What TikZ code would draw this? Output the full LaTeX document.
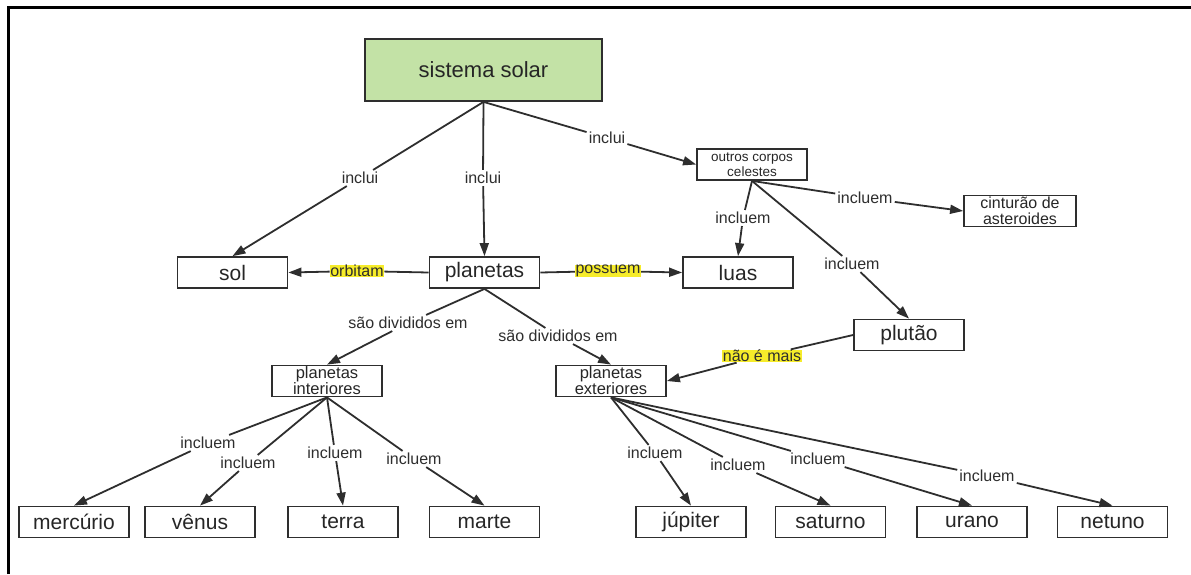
\documentclass[tikz,border=0pt]{standalone}
\usepackage{fontspec}
\setmainfont{Liberation Sans}
\usetikzlibrary{arrows.meta}

\definecolor{solgreen}{HTML}{C3E2A6}
\definecolor{linegray}{HTML}{2E2E2E}
\definecolor{marker}{HTML}{F6EC2A}

\begin{document}
\begin{tikzpicture}[x=1pt,y=-1pt,
   box/.style={draw=linegray,line width=1.8pt,minimum width=110pt,minimum height=31pt,
               inner sep=1pt,align=center,font=\fontsize{21}{24}\selectfont,text=black!85},
   smallbox/.style={box,font=\fontsize{13.5}{15}\selectfont},
   midbox/.style={box,font=\fontsize{16}{15.5}\selectfont},
   lbl/.style={fill=white,inner sep=2pt,font=\fontsize{16}{18}\selectfont,text=linegray},
   hl/.style={lbl,fill=marker,inner sep=0.5pt},
   link/.style={draw=linegray,line width=1.8pt},
   >={Triangle[length=13pt,width=9pt]}]
  \useasboundingbox (0,0) rectangle (1191,574);
  \draw[line width=3pt] (8,574) -- (8,7) -- (1191,7);

  % concepts
  \node[box,fill=solgreen,minimum width=237pt,minimum height=62pt,font=\fontsize{22}{24}\selectfont] (sis) at (483.5,70) {sistema solar};
  \node[smallbox] (outros) at (752,164.5) {outros corpos\\celestes};
  \node[midbox,minimum width=112pt] (cint) at (1020,211) {cinturão de\\asteroides};
  \node[box] (sol) at (232.5,272.5) {sol};
  \node[box] (plan) at (484.5,272.5) {planetas};
  \node[box] (luas) at (738,272.5) {luas};
  \node[box] (plut) at (909,335) {plutão};
  \node[midbox,font=\fontsize{16.5}{16}\selectfont] (pint) at (327,381) {planetas\\interiores};
  \node[midbox,font=\fontsize{16.5}{16}\selectfont] (pext) at (611,381) {planetas\\exteriores};
  \node[box] (merc) at (74,522) {mercúrio};
  \node[box] (ven) at (200,522) {vênus};
  \node[box] (ter) at (343,522) {terra};
  \node[box] (mar) at (484.5,522) {marte};
  \node[box] (jup) at (691,522) {júpiter};
  \node[box] (sat) at (830.5,522) {saturno};
  \node[box] (ura) at (972,522) {urano};
  \node[box] (net) at (1112.5,522) {netuno};

  % linking phrases
  \node[lbl] (inc1) at (360,178) {inclui};
  \node[lbl] (inc2) at (483,178) {inclui};
  \node[lbl] (inc3) at (607,138) {inclui};
  \node[lbl] (incL) at (743,218) {incluem};
  \node[lbl] (incC) at (865,198) {incluem};
  \node[lbl] (incP) at (852,264) {incluem};
  \node[hl] (orb) at (357,271) {orbitam};
  \node[hl] (pos) at (608,271) {possuem};
  \node[lbl] (div1) at (408,323) {são divididos em};
  \node[lbl] (div2) at (558,336) {são divididos em};
  \node[hl] (nao) at (762,356) {não é mais};
  \node[lbl] (iMe) at (208,443) {incluem};
  \node[lbl] (iVe) at (248,463) {incluem};
  \node[lbl] (iTe) at (335,453) {incluem};
  \node[lbl] (iMa) at (414,459) {incluem};
  \node[lbl] (iJu) at (655,453) {incluem};
  \node[lbl] (iSa) at (738,465) {incluem};
  \node[lbl] (iUr) at (818,459) {incluem};
  \node[lbl] (iNe) at (987,476) {incluem};

  % links
  \draw[link] (sis.south) -- (inc1);  \draw[link,->] (inc1) -- (sol.north);
  \draw[link] (sis.south) -- (inc2);  \draw[link,->] (inc2) -- (plan.north);
  \draw[link] (sis.south) -- (inc3);  \draw[link,->] (inc3) -- (outros.west);
  \draw[link] (outros.south) -- (incL);  \draw[link,->] (incL) -- (luas.north);
  \draw[link] (outros.south) -- (incC);  \draw[link,->] (incC) -- (cint.west);
  \draw[link] (outros.south) -- (incP);  \draw[link,->] (incP) -- (plut.north);
  \draw[link] (plan.west) -- (orb);  \draw[link,->] (orb) -- (sol.east);
  \draw[link] (plan.east) -- (pos);  \draw[link,->] (pos) -- (luas.west);
  \draw[link] (plan.south) -- (div1);  \draw[link,->] (div1) -- (pint.north);
  \draw[link] (plan.south) -- (div2);  \draw[link,->] (div2) -- (pext.north);
  \draw[link] (plut.west) -- (nao);  \draw[link,->] (nao) -- (pext.east);
  \draw[link] (pint.south) -- (iMe);  \draw[link,->] (iMe) -- (merc.north);
  \draw[link] (pint.south) -- (iVe);  \draw[link,->] (iVe) -- (ven.north);
  \draw[link] (pint.south) -- (iTe);  \draw[link,->] (iTe) -- (ter.north);
  \draw[link] (pint.south) -- (iMa);  \draw[link,->] (iMa) -- (mar.north);
  \draw[link] (pext.south) -- (iJu);  \draw[link,->] (iJu) -- (jup.north);
  \draw[link] (pext.south) -- (iSa);  \draw[link,->] (iSa) -- (sat.north);
  \draw[link] (pext.south) -- (iUr);  \draw[link,->] (iUr) -- (ura.north);
  \draw[link] (pext.south) -- (iNe);  \draw[link,->] (iNe) -- (net.north);
\end{tikzpicture}
\end{document}
